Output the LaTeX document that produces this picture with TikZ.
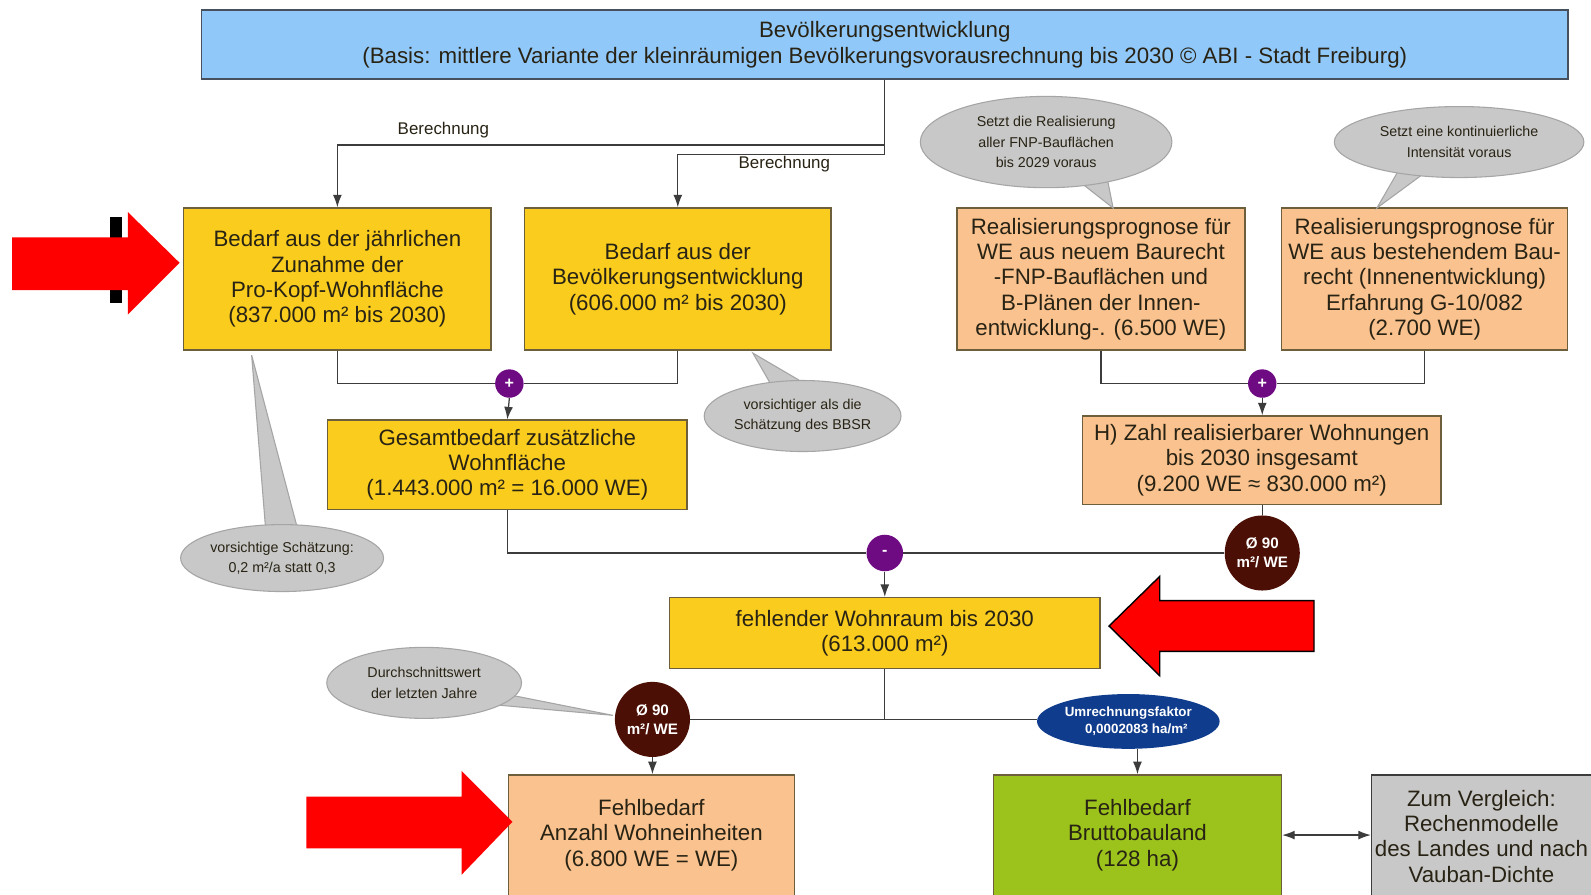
\documentclass[tikz,border=0pt]{standalone}
\usepackage{fontspec}
\setmainfont{Liberation Sans}
\usetikzlibrary{shapes.geometric,arrows.meta,calc}
\definecolor{topblue}{RGB}{145,200,250}
\definecolor{topline}{RGB}{70,80,95}
\definecolor{ybox}{RGB}{249,204,30}
\definecolor{pbox}{RGB}{250,194,142}
\definecolor{gbox}{RGB}{155,195,27}
\definecolor{greybox}{RGB}{200,200,200}
\definecolor{boxline}{RGB}{110,95,60}
\definecolor{txt}{RGB}{40,35,20}
\definecolor{conn}{RGB}{60,60,60}
\definecolor{purp}{RGB}{110,10,130}
\definecolor{brownc}{RGB}{75,15,5}
\definecolor{darkblue}{RGB}{15,60,140}
\definecolor{callfill}{RGB}{200,200,200}
\definecolor{callline}{RGB}{165,165,165}
\definecolor{redarrow}{RGB}{255,0,0}
\newcommand\boxfont{\fontsize{12.5}{14.2}\selectfont}
\newcommand\callfont{\fontsize{8}{11.4}\selectfont}
\tikzset{
  box/.style={draw=boxline, line width=0.8pt, align=center, font=\boxfont, text=txt, inner sep=0pt},
  txtnode/.style={align=center, font=\boxfont, text=txt, inner sep=0pt},
  callout/.style={ellipse, draw=callline, fill=callfill, line width=0.6pt, align=center, font=\callfont, text=txt, inner sep=0pt},
  tail/.style={draw=callline, fill=callfill, line width=0.6pt},
  opcirc/.style={circle, fill=purp, text=white, font=\bfseries\small, inner sep=0pt},
  browncirc/.style={circle, fill=brownc, text=white, font=\bfseries\fontsize{8.5}{10.5}\selectfont, align=center, inner sep=0pt, minimum size=1.48cm},
  line/.style={draw=conn, line width=0.7pt},
  arr/.style={draw=conn, line width=0.7pt, -{Latex[length=7pt,width=5pt]}},
  lbl/.style={font=\fontsize{9.5}{11}\selectfont, text=txt, inner sep=0pt},
  redarr/.style={fill=redarrow}
}
\begin{document}
\begin{tikzpicture}[x=0.02cm,y=-0.02cm]
\useasboundingbox (0,0) rectangle (1568,882);
\fill[white] (0,0) rectangle (1568,882);

% top box
\node[box, draw=topline, fill=topblue, minimum width=26.94cm, minimum height=1.36cm] (top) at (872,44)
  {Bevölkerungsentwicklung\\(Basis: mittlere Variante der kleinräumigen Bevölkerungsvorausrechnung bis 2030 © ABI - Stadt Freiburg)};

% first row boxes
\node[box, fill=ybox, minimum width=6.06cm, minimum height=2.8cm] (A) at (332.5,275)
  {Bedarf aus der jährlichen\\Zunahme der\\Pro-Kopf-Wohnfläche\\(837.000 m² bis 2030)};
\node[box, fill=ybox, minimum width=6.04cm, minimum height=2.8cm] (B) at (668,275)
  {Bedarf aus der\\Bevölkerungsentwicklung\\(606.000 m² bis 2030)};
\node[box, fill=pbox, minimum width=5.68cm, minimum height=2.8cm] (D) at (1085,275)
  {Realisierungsprognose für\\WE aus neuem Baurecht\\-FNP-Bauflächen und\\B-Plänen der Innen-\\entwicklung-. (6.500 WE)};
\node[box, fill=pbox, minimum width=5.64cm, minimum height=2.8cm] (E) at (1404,275)
  {Realisierungsprognose für\\WE aus bestehendem Bau-\\recht (Innenentwicklung)\\Erfahrung G-10/082\\(2.700 WE)};

% connectors from top
\draw[arr] (top.south) -- (872,143) -| (A.north);
\draw[arr] (top.south) -- (872,152) -| (B.north);
\node[lbl] (l1) at (437,128) {Berechnung};
\node[lbl] (l2) at (773,162) {Berechnung};

% plus circles
\node[opcirc, minimum size=0.56cm] (P1) at (502,378) {+};
\node[opcirc, minimum size=0.56cm] (P2) at (1244,378) {+};

\node[box, fill=ybox, minimum width=7.08cm, minimum height=1.76cm] (C) at (500,458)
  {Gesamtbedarf zusätzliche\\Wohnfläche\\(1.443.000 m² = 16.000 WE)};
\node[box, fill=pbox, minimum width=7.06cm, minimum height=1.74cm] (F) at (1243.5,453.5)
  {H) Zahl realisierbarer Wohnungen\\bis 2030 insgesamt\\(9.200 WE ≈ 830.000 m²)};

\draw[line] (A.south) |- (P1.west);
\draw[line] (B.south) |- (P1.east);
\draw[arr] (P1.south) -- (C.north);
\draw[line] (D.south) |- (P2.west);
\draw[line] (E.south) |- (P2.east);
\draw[arr] (P2.south) -- (F.north -| P2.south);

% minus circle and brown circle
\node[opcirc, minimum size=0.72cm] (M) at (872,545) {-};
\node[browncirc] (Br1) at (1244,545) {Ø 90\\m²/ WE};
\draw[line] (C.south) |- (M.west);
\draw[line] (F.south -| Br1.north) -- (Br1.north);
\draw[line] (Br1.west) -- (M.east);

\node[box, fill=ybox, minimum width=8.48cm, minimum height=1.4cm] (G) at (872,624)
  {fehlender Wohnraum bis 2030\\(613.000 m²)};
\draw[arr] (M.south) -- (M.south |- G.north);

% second brown circle and conversion ellipse
\node[browncirc] (Br2) at (643,709) {Ø 90\\m²/ WE};
\node[ellipse, fill=darkblue, text=white, font=\bfseries\fontsize{7.5}{9.5}\selectfont, align=center, inner sep=0pt, minimum width=3.6cm, minimum height=1.08cm] (U) at (1112,711)
  {Umrechnungsfaktor\\\hspace*{1.2em}0,0002083 ha/m²};
\coordinate (Gj) at (G.south |- Br2.east);
\draw[line] (G.south) -- (Gj);
\draw[line] (Gj) -- (Br2.east);
\draw[line] (Gj) -- (U.west |- Gj);

% bottom boxes
\node[box, fill=pbox, minimum width=5.64cm, minimum height=2.7cm, anchor=north] (H) at (642,763) {};
\node[txtnode] (Ht) at (642,823) {Fehlbedarf\\Anzahl Wohneinheiten\\(6.800 WE = WE)};
\node[box, fill=gbox, minimum width=5.68cm, minimum height=2.7cm, anchor=north] (I) at (1121,763) {};
\node[txtnode] (It) at (1121,823) {Fehlbedarf\\Bruttobauland\\(128 ha)};
\node[box, draw=conn, fill=greybox, minimum width=5.2cm, minimum height=2.7cm, anchor=north west] (J) at (1351,763) {};
\node[txtnode] (Jt) at (1460,824) {Zum Vergleich:\\Rechenmodelle\\des Landes und nach\\Vauban-Dichte};

\draw[arr] (Br2.south) -- (Br2.south |- H.north);
\draw[arr] (U.south -| I.north) -- (I.north);
\draw[draw=conn, line width=0.7pt, {Latex[length=7pt,width=5pt]}-{Latex[length=7pt,width=5pt]}] (I.east |- It) -- (J.west |- It);

% callouts
\draw[tail] (262,524) -- (248,350) -- (294,524) -- cycle;
\node[callout, minimum width=3.88cm, minimum height=1.32cm] (cA) at (278,550) {vorsichtige Schätzung:\\0,2 m²/a statt 0,3};
\draw[tail] (765,388) -- (742,348) -- (800,382) -- cycle;
\node[callout, minimum width=3.88cm, minimum height=1.4cm] (cB) at (791,410) {vorsichtiger als die\\Schätzung des BBSR};
\draw[tail] (1060,176) -- (1097,205) -- (1090,170) -- cycle;
\node[callout, minimum width=4.96cm, minimum height=1.8cm] (cC) at (1031,140) {Setzt die Realisierung\\aller FNP-Bauflächen\\bis 2029 voraus};
\draw[tail] (1380,165) -- (1357,205) -- (1410,166) -- cycle;
\node[callout, minimum width=4.92cm, minimum height=1.4cm] (cD) at (1438,140) {Setzt eine kontinuierliche\\Intensität voraus};
\draw[tail] (488,682) -- (604,705) -- (492,695) -- cycle;
\node[callout, minimum width=3.84cm, minimum height=1.4cm] (cE) at (418,673) {Durchschnittswert\\der letzten Jahre};

% red arrows
\fill[black] (108,214) rectangle (120,299);
\fill[redarr] (12,234) -- (126,234) -- (126,209) -- (177,259) -- (126,310) -- (126,286) -- (12,286) -- cycle;
\filldraw[redarr, draw=black, line width=0.8pt] (1295,592) -- (1143,592) -- (1143,568) -- (1093,617) -- (1143,666) -- (1143,642) -- (1295,642) -- cycle;
\fill[redarr] (302,785) -- (455,785) -- (455,760) -- (505,810) -- (455,862) -- (455,836) -- (302,836) -- cycle;
\end{tikzpicture}
\end{document}
